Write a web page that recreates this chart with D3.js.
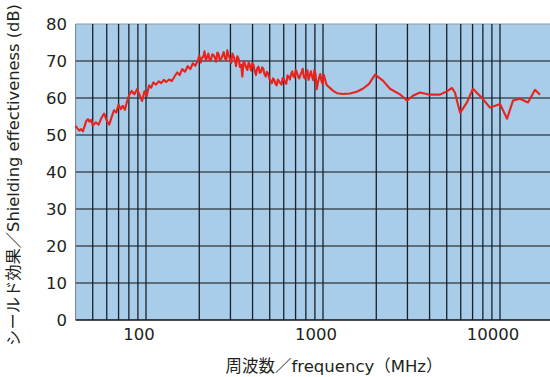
<!DOCTYPE html>
<html><head><meta charset="utf-8">
<script src="https://cdn.jsdelivr.net/npm/d3@7"></script>
<style>
html,body{margin:0;padding:0;background:#fff;}
svg{display:block;}
text{font-family:"DejaVu Sans","Noto Sans CJK JP",sans-serif;fill:#231f20;}
</style></head>
<body><svg id="c" width="550" height="377"></svg>
<script>
// ---- data ----
const freqs = [40,41,42,43,44,45,46,47,48,49,50,52,54,56,58,60,62,64,66,68,70,72,74,76,78,80,83,86,89,92,95,98,101,104,107,110,114,118,122,126,130,135,140,145,150,155,160,166,172,178,184,190,197,200,204,207,211,214,218,221,225,229,233,237,241,245,249,253,257,261,266,270,275,279,284,288,293,298,303,308,313,318,323,328,334,339,345,350,356,362,368,374,380,386,392,398,405,411,418,425,432,439,446,453,460,467,475,482,490,498,506,514,522,530,539,547,556,565,574,583,592,601,611,620,630,640,650,660,670,680,691,701,712,723,734,745,757,768,780,792,804,816,829,842,855,868,881,894,908,922,936,950,965,980,995,1010,1025,1040,1055,1090,1125,1160,1200,1300,1420,1550,1680,1820,1970,2180,2390,2720,2980,3220,3530,4020,4580,5000,5360,5570,5950,6510,7030,7910,8780,10000,10960,11840,12970,14390,15770,16830];
const shielding = [52.5,51.8,51.2,51.6,51.0,52.4,53.8,54.3,53.6,54.1,52.6,53.4,52.8,54.6,55.8,53.9,52.8,54.9,56.7,56.1,58.2,57.0,57.9,56.8,58.9,60.6,61.9,61.0,62.4,60.8,59.2,61.8,60.5,63.4,62.8,64.2,63.6,64.5,64.0,64.9,64.3,65.0,64.6,65.8,66.9,66.2,67.8,67.1,68.6,67.8,69.4,68.7,70.3,71.5,69.6,70.8,71.2,72.6,70.1,71.0,72.0,70.2,70.4,71.8,71.6,70.9,69.8,72.3,71.9,70.3,70.6,71.4,72.4,70.8,70.2,72.9,71.5,70.6,69.4,72.0,71.1,70.2,68.6,71.3,70.5,68.4,69.0,65.8,69.9,69.3,68.2,67.6,69.6,68.8,67.4,69.4,68.9,67.4,66.2,68.0,68.5,66.8,67.0,68.3,67.9,66.4,65.8,67.1,66.6,65.2,64.6,64.0,65.3,64.9,63.8,63.4,65.0,64.5,64.0,63.6,65.4,65.0,64.2,63.8,66.1,65.7,65.0,66.4,67.2,65.9,65.6,67.6,66.9,65.8,65.3,66.2,67.0,67.9,65.6,65.3,66.8,67.5,64.9,66.2,67.2,65.7,64.8,67.6,66.4,62.4,64.2,65.4,66.5,64.6,63.8,66.3,65.2,64.0,63.4,62.8,62.2,61.7,61.3,61.1,61.2,61.7,62.5,63.8,66.3,64.7,62.5,61.0,59.3,60.6,61.5,60.9,60.9,61.8,62.7,61.4,56.0,58.8,62.5,60.0,57.4,58.4,54.4,59.3,59.8,58.8,62.2,60.9];
const gridFreqs = [50,60,70,80,90,100,200,300,400,500,600,700,800,900,1000,2000,3000,4000,5000,6000,7000,8000,9000,10000];
const xTickLabels = [100,1000,10000];
const yTicks = [0,10,20,30,40,50,60,70,80];
const xTitle = "周波数／frequency（MHz）";
const yTitle = "シールド効果／Shielding effectiveness (dB)";

// ---- layout ----
const svg = d3.select("#c");
const x = d3.scaleLog().domain([100,10000]).range([146,500]);
const y = d3.scaleLinear().domain([0,80]).range([320,24]);
const left = x(40), right = 550;

svg.append("rect").attr("x",left).attr("y",y(80)).attr("width",right-left).attr("height",y(0)-y(80))
  .attr("fill","#a9cce9");

// horizontal grid
svg.append("g").selectAll("line").data(yTicks).join("line")
  .attr("x1",left).attr("x2",right).attr("y1",d=>y(d)).attr("y2",d=>y(d))
  .attr("stroke",d=>d===80?"#8a9aa8":"#111").attr("stroke-width",d=>d===0?1.5:1.1);
// vertical grid
svg.append("g").selectAll("line").data(gridFreqs).join("line")
  .attr("x1",d=>x(d)).attr("x2",d=>x(d)).attr("y1",y(80)).attr("y2",y(0))
  .attr("stroke","#15222e").attr("stroke-width",1.3);
svg.append("line").attr("x1",left).attr("x2",left).attr("y1",y(80)).attr("y2",y(0))
  .attr("stroke","#6f8294").attr("stroke-width",1);

// data line
const pts = freqs.map((f,i)=>[f,shielding[i]]);
svg.append("path").datum(pts)
  .attr("d",d3.line().x(d=>x(d[0])).y(d=>y(d[1])).curve(d3.curveLinear))
  .attr("fill","none").attr("stroke","#e8231c").attr("stroke-width",2.1).attr("stroke-linejoin","round");

// axes labels
svg.append("g").selectAll("text").data(yTicks).join("text")
  .attr("x",67).attr("y",d=>y(d)).attr("dy","0.36em").attr("text-anchor","end")
  .attr("font-size",16.5).text(d=>d);
svg.append("g").selectAll("text").data(xTickLabels).join("text")
  .attr("x",d=>x(d)-7).attr("y",340).attr("text-anchor","middle")
  .attr("font-size",16.5).text(d=>d);

svg.append("text").attr("x",334).attr("y",372).attr("text-anchor","middle")
  .attr("font-size",16.5).text(xTitle);
svg.append("text").attr("transform","translate(19,175) rotate(-90)").attr("text-anchor","middle")
  .attr("font-size",16.3).text(yTitle);
</script></body></html>
